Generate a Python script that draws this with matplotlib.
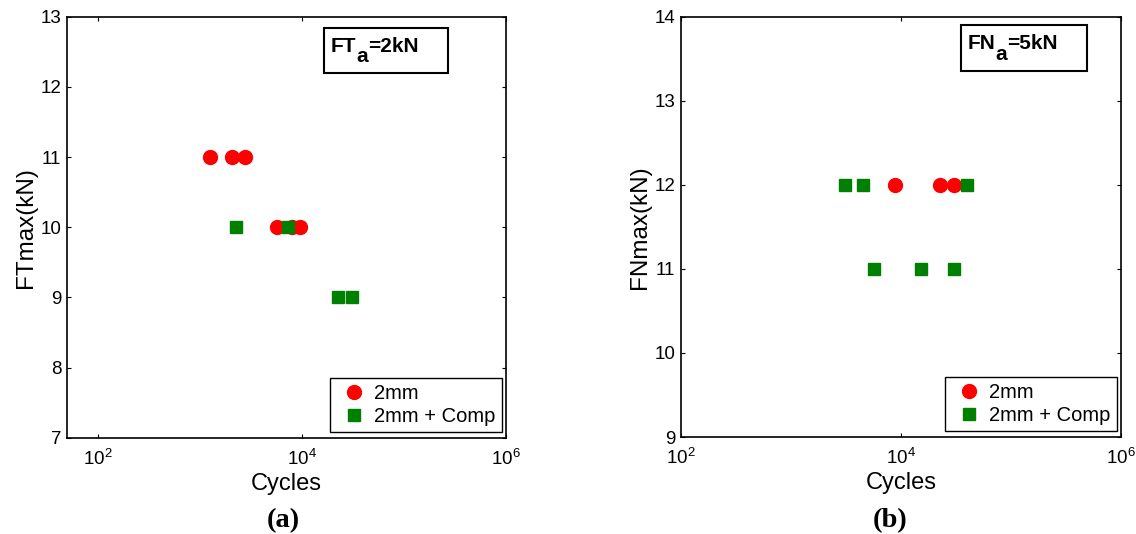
import matplotlib
matplotlib.use('Agg')
import matplotlib.pyplot as plt
from matplotlib.patches import Rectangle
from matplotlib.ticker import FixedLocator, NullLocator

plt.rcParams['font.family'] = ['Liberation Sans', 'DejaVu Sans']
plt.rcParams['mathtext.default'] = 'regular'

# (a) FTa = 2 kN
ft_red_cycles = [1270, 2090, 2800, 5770, 8090, 9550]
ft_red_load = [11, 11, 11, 10, 10, 10]
ft_grn_cycles = [2270, 7340, 22700, 30900]
ft_grn_load = [10, 10, 9, 9]

# (b) FNa = 5 kN
fn_red_cycles = [8950, 22800, 30700]
fn_red_load = [12, 12, 12]
fn_grn_cycles = [3100, 4520, 40400, 5690, 15200, 30300]
fn_grn_load = [12, 12, 12, 11, 11, 11]

series_labels = ['2mm', '2mm + Comp']
x_ticks = [1e2, 1e4, 1e6]
x_tick_labels = ['$10^{2}$', '$10^{4}$', '$10^{6}$']


def make_panel(ax, xr, yr, xg, yg, xlim, ylim, ylabel, note, box, note_xy, tag, tag_x):
    ax.plot(xr, yr, 'o', color='#ff0000', markersize=10, linestyle='none', label=series_labels[0])
    ax.plot(xg, yg, 's', color='#008000', markersize=8.4, linestyle='none', label=series_labels[1])
    ax.set_xscale('log')
    ax.set_xlim(*xlim)
    ax.set_ylim(*ylim)
    ax.xaxis.set_major_locator(FixedLocator(x_ticks))
    ax.xaxis.set_minor_locator(NullLocator())
    ax.set_xticklabels(x_tick_labels)
    ax.set_yticks(range(ylim[0], ylim[1] + 1))
    ax.tick_params(direction='in', top=True, right=True, length=3, width=0.8,
                   labelsize=13.5, pad=4)
    ax.tick_params(axis='x', pad=8)
    for s in ax.spines.values():
        s.set_linewidth(1.2)
    ax.set_xlabel('Cycles', fontsize=17, labelpad=3)
    ax.set_ylabel(ylabel, fontsize=17.5)
    ax.yaxis.set_label_coords(-0.068, 0.5)

    ax.add_patch(Rectangle((box[0], box[1]), box[2] - box[0], box[3] - box[1],
                           transform=ax.transAxes, fill=False, edgecolor='black',
                           linewidth=1.5, clip_on=False))
    # note text: main part, lowered subscript, rest
    kw = dict(fontsize=15, fontweight='bold')
    t1 = ax.text(note_xy[0], note_xy[1], note[0], transform=ax.transAxes,
                 va='baseline', ha='left', **kw)
    t2 = ax.annotate(note[1], xy=(1, 0), xycoords=t1, xytext=(0, -7.5),
                     textcoords='offset points', va='bottom', ha='left', **kw)
    ax.annotate(note[2], xy=(1, 0), xycoords=t2, xytext=(0, 7.5),
                textcoords='offset points', va='bottom', ha='left', **kw)

    leg = ax.legend(loc='lower right', bbox_to_anchor=(0.991, 0.0135), borderaxespad=0,
                    fontsize=14.5, numpoints=1, fancybox=False, edgecolor='black',
                    framealpha=1, borderpad=0.3, handlelength=1.8, handletextpad=0.1,
                    labelspacing=0.2)
    leg.get_frame().set_linewidth(1.0)

    fig.text(tag_x, 0.026, tag, fontsize=20.5, fontweight='bold',
             family='Liberation Serif', ha='center', va='center')


fig = plt.figure(figsize=(11.36, 5.34), dpi=100)
ax1 = fig.add_axes([0.0590, 0.1803, 0.3860, 0.7884])
ax2 = fig.add_axes([0.5995, 0.1816, 0.3869, 0.7870])

make_panel(ax1, ft_red_cycles, ft_red_load, ft_grn_cycles, ft_grn_load,
           (50, 1e6), (7, 13), 'FTmax(kN)', ('FT', 'a', '=2kN'),
           (0.586, 0.866, 0.868, 0.973), (0.601, 0.917), '(a)', 0.249)
make_panel(ax2, fn_red_cycles, fn_red_load, fn_grn_cycles, fn_grn_load,
           (1e2, 1e6), (9, 14), 'FNmax(kN)', ('FN', 'a', '=5kN'),
           (0.637, 0.8715, 0.924, 0.981), (0.652, 0.923), '(b)', 0.7835)

fig.savefig('out.png', dpi=100)
